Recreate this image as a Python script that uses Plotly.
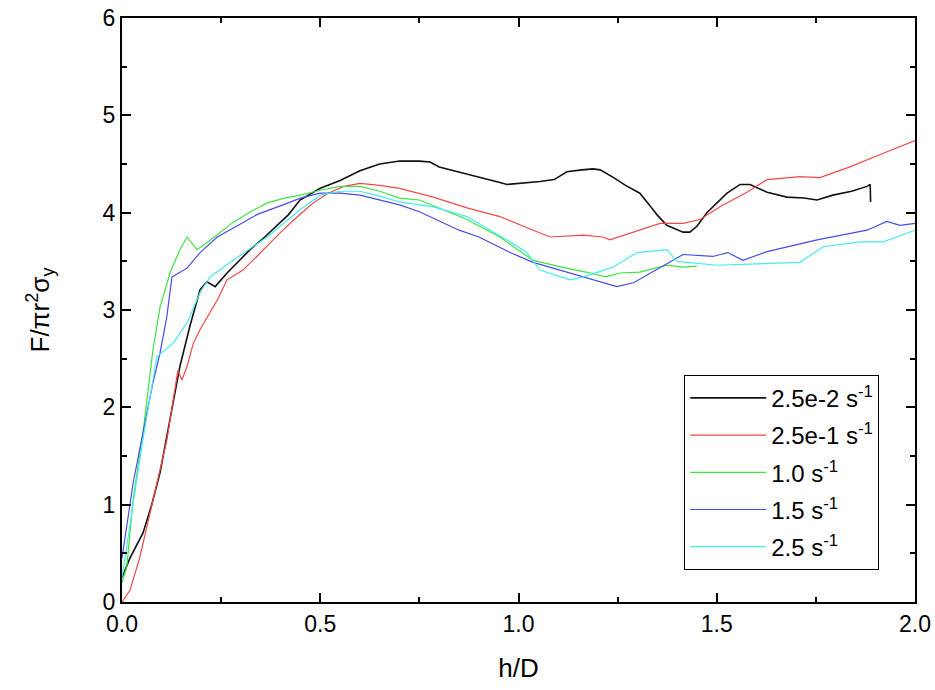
import plotly.graph_objects as go

# ---- data ----
names = ["2.5e-2 s<sup>-1</sup>", "2.5e-1 s<sup>-1</sup>", "1.0 s<sup>-1</sup>",
         "1.5 s<sup>-1</sup>", "2.5 s<sup>-1</sup>"]

x_black = [0, 0.02, 0.053, 0.075, 0.096, 0.12, 0.146, 0.171, 0.197, 0.214, 0.235, 0.265, 0.3,
           0.323, 0.36, 0.39, 0.42, 0.449, 0.5, 0.55, 0.6, 0.65, 0.70, 0.75, 0.777, 0.80, 0.85,
           0.9, 0.953, 0.971, 1.0, 1.054, 1.09, 1.122, 1.16, 1.188, 1.206, 1.24, 1.27, 1.306,
           1.33, 1.349, 1.374, 1.415, 1.432, 1.45, 1.475, 1.5, 1.526, 1.559, 1.584, 1.627,
           1.677, 1.72, 1.753, 1.793, 1.84, 1.879, 1.887, 1.888]
y_black = [0.25, 0.45, 0.71, 1.0, 1.33, 1.85, 2.42, 2.83, 3.21, 3.29, 3.24, 3.38, 3.52,
           3.62, 3.75, 3.86, 3.98, 4.13, 4.25, 4.33, 4.43, 4.5, 4.53, 4.53, 4.52, 4.47, 4.42,
           4.37, 4.31, 4.29, 4.30, 4.32, 4.34, 4.42, 4.44, 4.45, 4.44, 4.36, 4.28, 4.2,
           4.08, 3.98, 3.87, 3.80, 3.80, 3.86, 4.0, 4.1, 4.2, 4.29, 4.29, 4.21,
           4.16, 4.15, 4.13, 4.18, 4.22, 4.27, 4.29, 4.11]

x_red = [0, 0.02, 0.045, 0.078, 0.113, 0.141, 0.151, 0.164, 0.18, 0.197, 0.24, 0.265, 0.305,
         0.34, 0.398, 0.44, 0.482, 0.52, 0.56, 0.6, 0.65, 0.70, 0.785, 0.87, 0.953, 1.037,
         1.08, 1.164, 1.213, 1.23, 1.29, 1.357, 1.415, 1.458, 1.508, 1.576, 1.627, 1.71,
         1.76, 1.836, 1.92, 1.995, 2.0]
y_red = [0.0, 0.12, 0.46, 1.05, 1.66, 2.38, 2.28, 2.42, 2.66, 2.8, 3.1, 3.31, 3.41,
         3.55, 3.79, 3.95, 4.1, 4.2, 4.27, 4.3, 4.28, 4.25, 4.16, 4.05, 3.96, 3.82,
         3.75, 3.77, 3.75, 3.72, 3.80, 3.89, 3.89, 3.93, 4.06, 4.21, 4.34, 4.37,
         4.36, 4.47, 4.61, 4.73, 4.74]

x_green = [0, 0.012, 0.028, 0.053, 0.078, 0.096, 0.121, 0.146, 0.164, 0.189, 0.214, 0.25,
           0.28, 0.32, 0.366, 0.41, 0.45, 0.5, 0.55, 0.6, 0.65, 0.70, 0.75, 0.87, 0.953,
           1.037, 1.12, 1.17, 1.22, 1.256, 1.306, 1.374, 1.415, 1.45]
y_green = [0.2, 0.36, 1.05, 1.74, 2.59, 3.03, 3.38, 3.62, 3.75, 3.62, 3.69, 3.8,
           3.9, 4.0, 4.1, 4.15, 4.18, 4.23, 4.27, 4.27, 4.22, 4.15, 4.13, 3.93, 3.75,
           3.51, 3.43, 3.39, 3.34, 3.38, 3.39, 3.46, 3.44, 3.45]

x_blue = [0, 0.028, 0.053, 0.078, 0.096, 0.113, 0.126, 0.164, 0.197, 0.24, 0.28, 0.34,
          0.406, 0.45, 0.5, 0.55, 0.6, 0.65, 0.70, 0.75, 0.85, 0.90, 0.979, 1.037, 1.164,
          1.248, 1.29, 1.415, 1.49, 1.528, 1.566, 1.627, 1.753, 1.879, 1.929, 1.962, 2.0]
y_blue = [0.45, 1.22, 1.74, 2.25, 2.56, 2.93, 3.34, 3.43, 3.59, 3.75, 3.84, 3.98,
          4.08, 4.15, 4.2, 4.2, 4.18, 4.13, 4.08, 4.01, 3.82, 3.75, 3.59, 3.49, 3.34,
          3.24, 3.28, 3.57, 3.55, 3.59, 3.51, 3.60, 3.72, 3.82, 3.91, 3.87, 3.89]

x_cyan = [0, 0.02, 0.05, 0.088, 0.129, 0.164, 0.197, 0.222, 0.28, 0.366, 0.449, 0.5, 0.55,
          0.6, 0.65, 0.70, 0.785, 0.87, 0.971, 1.021, 1.054, 1.13, 1.164, 1.238, 1.299,
          1.374, 1.40, 1.50, 1.71, 1.768, 1.861, 1.92, 2.0]
y_cyan = [0.25, 0.8, 1.6, 2.52, 2.66, 2.87, 3.18, 3.34, 3.51, 3.75, 4.03, 4.18, 4.22,
          4.22, 4.17, 4.11, 4.06, 3.96, 3.72, 3.59, 3.41, 3.31, 3.34, 3.44, 3.59,
          3.62, 3.5, 3.46, 3.49, 3.65, 3.7, 3.7, 3.82]

xs = [x_black, x_red, x_green, x_blue, x_cyan]
ys = [y_black, y_red, y_green, y_blue, y_cyan]
colors = ["#111111", "#f04848", "#3fe23f", "#4a4ae6", "#44ecec"]
widths = [1.6, 1.2, 1.2, 1.2, 1.2]

fig = go.Figure()
for i in range(5):
    fig.add_trace(go.Scatter(x=xs[i], y=ys[i], mode="lines", name=names[i],
                             legendgroup=f"g{i}",
                             line=dict(color=colors[i], width=widths[i])))

font_family = "Liberation Sans, Arial, sans-serif"
axis_common = dict(showline=True, linecolor="black", linewidth=2, mirror="allticks",
                   ticks="inside", tickcolor="black", tickwidth=2, ticklen=9,
                   showgrid=False, zeroline=False, ticklabeloverflow="allow",
                   automargin=False,
                   tickfont=dict(size=23, color="black", family=font_family))

fig.update_xaxes(range=[0, 2.0], dtick=0.5, tickformat=".1f",
                 minor=dict(ticks="inside", dtick=0.25, ticklen=5, tickcolor="black",
                            tickwidth=2),
                 title=dict(text="h/D", font=dict(size=26, color="black", family=font_family),
                            standoff=23),
                 **axis_common)
fig.update_yaxes(range=[0, 6], dtick=1,
                 minor=dict(ticks="inside", dtick=0.5, ticklen=5, tickcolor="black",
                            tickwidth=2),
                 title=dict(text="F/πr<sup>2</sup>σ<sub>y</sub>",
                            font=dict(size=26, color="black", family=font_family),
                            standoff=46),
                 **axis_common)

fig.update_layout(
    width=935, height=690,
    margin=dict(l=122, r=20, t=18, b=88),
    plot_bgcolor="white", paper_bgcolor="white",
    font=dict(family=font_family, color="black"),
    legend=dict(x=0.709, y=0.389, xanchor="left", yanchor="top",
                bordercolor="black", borderwidth=1, bgcolor="white",
                font=dict(size=24, color="black", family=font_family),
                itemwidth=76, tracegroupgap=3),
)

fig.write_html("out.html",
               config={"displayModeBar": False},
               post_script="document.body.style.margin='0';"
                           "document.body.style.overflow='hidden';")
